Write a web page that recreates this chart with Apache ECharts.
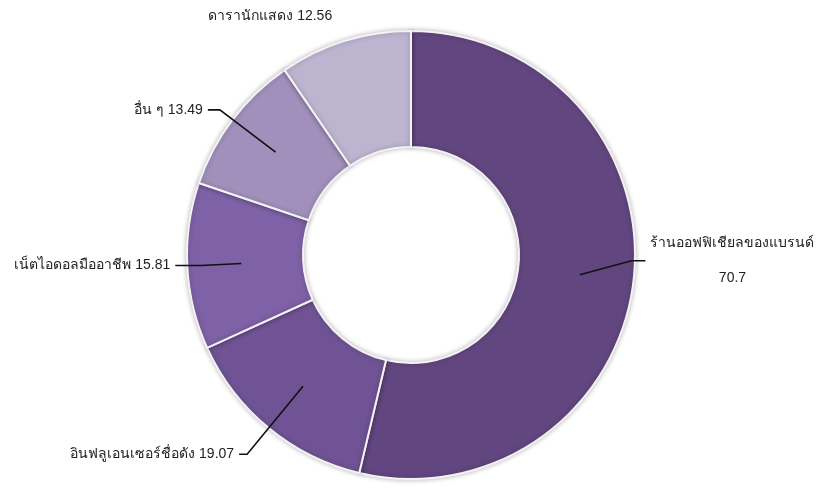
<!DOCTYPE html>
<html>
<head>
<meta charset="utf-8">
<script src="https://cdn.jsdelivr.net/npm/echarts@6/dist/echarts.min.js"></script>
<style>
  html, body { margin: 0; padding: 0; background: #fff; }
  #chart { width: 821px; height: 488px; }
</style>
</head>
<body>
<div id="chart"></div>
<script>
// ข้อมูล (clockwise from 12 o'clock)
const categories = ['ร้านออฟฟิเชียลของแบรนด์', 'อินฟลูเอนเซอร์ชื่อดัง', 'เน็ตไอดอลมืออาชีพ', 'อื่น ๆ', 'ดารานักแสดง']
const values = [70.7, 19.07, 15.81, 13.49, 12.56]
const colors = ['#62467f', '#6f5394', '#7e61a6', '#a090bb', '#bdb4d0']
// label line: first leg, second leg
const lineLen = [52, 88, 40, 70, 80]
const lineLen2 = [14, 8, 26, 12, 0]

const chart = echarts.init(document.getElementById('chart'))

const center = [411, 255]

const visible = categories.map((name, i) => ({
  name,
  value: values[i],
  itemStyle: { color: colors[i] }
}))

const labels = categories.map((name, i) => {
  const item = {
    name,
    value: values[i],
    labelLine: {
      show: i !== 4,
      length: lineLen[i],
      length2: lineLen2[i]
    }
  }
  if (i === 0) {
    item.label = { formatter: '{n|{b}}\n{v|{c}}' }
  }
  return item
})

chart.setOption({
  backgroundColor: '#fff',
  animation: false,
  series: [
    {
      type: 'pie',
      z: 2,
      radius: [108, 224],
      center,
      startAngle: 90,
      clockwise: true,
      silent: true,
      label: { show: false },
      labelLine: { show: false },
      itemStyle: {
        borderColor: '#f4f2f7',
        borderWidth: 2,
        shadowBlur: 5,
        shadowColor: 'rgba(0,0,0,0.25)'
      },
      emphasis: { disabled: true },
      data: visible
    },
    {
      // transparent ring that only carries the labels, so lines start inside the slices
      type: 'pie',
      z: 6,
      radius: [108, 170],
      center,
      startAngle: 90,
      clockwise: true,
      silent: true,
      avoidLabelOverlap: false,
      itemStyle: { color: 'rgba(0,0,0,0)', borderWidth: 0 },
      emphasis: { disabled: true },
      label: {
        show: true,
        position: 'outside',
        formatter: '{b} {c}',
        color: '#222',
        fontSize: 14,
        fontFamily: 'Helvetica, Arial, sans-serif',
        distanceToLabelLine: 5,
        rich: {
          n: { fontSize: 14, color: '#222', align: 'center', lineHeight: 35 },
          v: { fontSize: 14, color: '#222', align: 'center', lineHeight: 35 }
        }
      },
      labelLine: {
        show: true,
        smooth: false,
        lineStyle: { color: '#111', width: 1.6 }
      },
      // lift the big slice's label a little, the line follows it
      labelLayout: (params) => {
        if (params.dataIndex !== 0) return {}
        const pts = params.labelLinePoints
        if (!pts) return { dy: -20 }
        return {
          dy: -20,
          labelLinePoints: [pts[0], [pts[1][0], pts[1][1] - 20], [pts[2][0], pts[2][1] - 20]]
        }
      },
      data: labels
    }
  ]
})
</script>
</body>
</html>
